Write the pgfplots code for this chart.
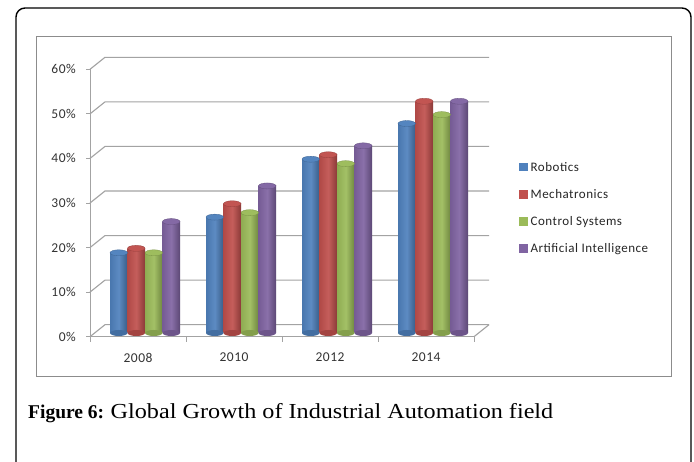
\documentclass[border=0pt]{standalone}
\usepackage{pgfplots}
\pgfplotsset{compat=1.18}
\usepackage{fontspec}
\setmainfont{Liberation Serif}
\newfontfamily\capfont[FakeStretch=1.13]{Liberation Serif}
\newfontfamily\chartfont[LetterSpace=4]{Carlito}
\usetikzlibrary{shapes.geometric}
\definecolor{robot}{HTML}{4F81BD}
\definecolor{mech}{HTML}{C0504D}
\definecolor{ctrl}{HTML}{9BBB59}
\definecolor{ai}{HTML}{8064A2}
\definecolor{gridc}{HTML}{A3A3A3}
\pgfplotsset{
  cyl/.style 2 args={ybar, bar width=17.5bp, bar shift=#2, draw=none,
    left color=#1!92!black, right color=#1!72!black, middle color=#1!92!white,
    yshift=3.7bp,
    nodes near coords={},
    every node near coord/.style={ellipse, inner sep=0pt, minimum width=17.5bp,
      minimum height=6bp, fill=#1!97!white, draw=#1!78!black, line width=0.3bp,
      anchor=center, xshift=#2},
    forget plot},
  cylbase/.style 2 args={ybar, bar width=17.5bp, bar shift=#2, draw=none, fill=none,
    yshift=3.7bp,
    nodes near coords={},
    every node near coord/.style={ellipse, inner sep=0pt, minimum width=17.5bp,
      minimum height=6bp, fill=#1!85!black, draw=none,
      anchor=center, xshift=#2},
    forget plot},
}
\newcommand\cylbar[4]{%
  \addplot[cylbase={#1}{#2}] coordinates {(#3,0)};
  \addplot[cyl={#1}{#2}] coordinates {(#3,#4)};
}
\begin{document}
\begin{tikzpicture}
\useasboundingbox (0,0) rectangle (694bp,462bp);
\fill[white] (0,0) rectangle (694bp,462bp);
\draw[black, line width=1.4bp, rounded corners=9bp] (16bp,-30bp) rectangle (691bp,454bp);
\draw[gray!90, line width=0.9bp] (36bp,85.3bp) rectangle (671.7bp,426bp);
\begin{axis}[
  scale only axis, width=384bp, height=267.4bp,
  at={(90bp,125.3bp)}, anchor=south west,
  xmin=-0.5, xmax=3.5, ymin=0, ymax=60,
  axis lines*=left,
  axis line style={gridc, line width=1bp},
  tick align=outside,
  xtick={0,1,2,3}, xticklabels={2008,2010,2012,2014},
  minor xtick={-0.5,0.5,1.5,2.5,3.5},
  major x tick style={draw=none},
  minor x tick style={gridc, line width=1bp},
  minor tick length=5bp,
  ytick={0,10,20,30,40,50,60},
  yticklabels={0\%,10\%,20\%,30\%,40\%,50\%,60\%},
  major y tick style={gridc, line width=1bp},
  major tick length=4bp,
  ticklabel style={font=\chartfont\fontsize{13.5bp}{15bp}\selectfont, text=black!80},
  yticklabel style={inner sep=0pt, xshift=-10bp},
  xticklabel style={inner sep=0pt, yshift=-12bp},
  clip=false,
  legend style={draw=none, fill=none, at={(1.117,0.481)}, anchor=west,
    inner xsep=0pt, inner ysep=0pt, row sep=16.6bp,
    font=\chartfont\fontsize{13bp}{15bp}\selectfont, text=black!85,
    nodes={inner xsep=3bp, inner ysep=0pt}},
  legend cell align=left,
  legend image code/.code={\fill[#1, draw=none] (0bp,-4bp) rectangle (8.5bp,4.5bp);},
]
% back wall grid
\pgfplotsinvokeforeach{0,10,20,30,40,50,60}{
  \draw[gridc, line width=1.1bp] (axis cs:-0.5,#1) -- ++(15bp,12bp) -- ([xshift=15bp,yshift=12bp]axis cs:3.5,#1);
}
\draw[gridc, line width=1.1bp] (axis cs:3.5,0) -- ++(15bp,12bp);
\addlegendimage{fill=robot}
\addlegendimage{fill=mech}
\addlegendimage{fill=ctrl}
\addlegendimage{fill=ai}
% Robotics
\cylbar{robot}{-19.25bp}{0}{18}
\cylbar{robot}{-19.25bp}{1}{26}
\cylbar{robot}{-19.25bp}{2}{39}
\cylbar{robot}{-19.25bp}{3}{47}
% Mechatronics
\cylbar{mech}{-1.75bp}{0}{19}
\cylbar{mech}{-1.75bp}{1}{29}
\cylbar{mech}{-1.75bp}{2}{40}
\cylbar{mech}{-1.75bp}{3}{52}
% Control Systems
\cylbar{ctrl}{15.75bp}{0}{18}
\cylbar{ctrl}{15.75bp}{1}{27}
\cylbar{ctrl}{15.75bp}{2}{38}
\cylbar{ctrl}{15.75bp}{3}{49}
% Artificial Intelligence
\cylbar{ai}{33.25bp}{0}{25}
\cylbar{ai}{33.25bp}{1}{33}
\cylbar{ai}{33.25bp}{2}{42}
\cylbar{ai}{33.25bp}{3}{52}
\legend{Robotics,Mechatronics,Control Systems,Artificial Intelligence}
\end{axis}
\node[anchor=base west, inner sep=0pt] at (28bp,43bp)
  {\fontsize{19.5bp}{24bp}\selectfont\textbf{Figure 6:} \capfont\fontsize{21.4bp}{24bp}\selectfont Global Growth of Industrial Automation field};
\end{tikzpicture}
\end{document}
